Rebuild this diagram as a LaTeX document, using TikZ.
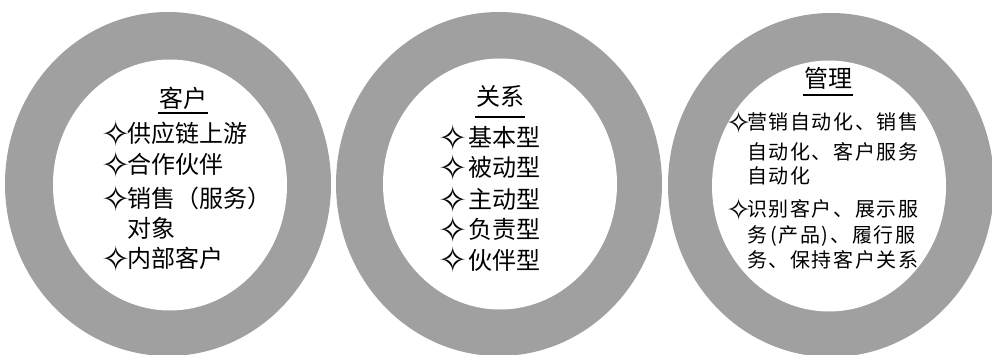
\documentclass[tikz,border=0pt]{standalone}
\usepackage{fontspec}
\newfontfamily\cjk{Noto Sans CJK SC}
\newfontfamily\symf{DejaVu Sans}
\usetikzlibrary{shapes.geometric}
\definecolor{ringgray}{RGB}{160,160,160}
\newcommand{\dia}[1]{\makebox[#1][l]{\smash{\raisebox{-4pt}{\symf\fontsize{35}{35}\selectfont ✧}}}}
\newcommand{\diasm}[1]{\makebox[#1][l]{\smash{\raisebox{-3.7pt}{\symf\fontsize{30}{30}\selectfont ✧}}}}
\tikzset{
  outerring/.style={ellipse, fill=ringgray, inner sep=0pt, minimum width=326pt, minimum height=344pt},
  innerdisc/.style={ellipse, fill=white, inner sep=0pt, minimum width=234pt, minimum height=251pt},
  titletxt/.style={font=\cjk\fontsize{24}{24}\selectfont, inner sep=1pt},
  itemtxt/.style={font=\cjk\fontsize{24}{24}\selectfont, anchor=base west, inner sep=0pt},
  itemsmall/.style={font=\cjk\fontsize{20}{20}\selectfont\addfontfeature{LetterSpace=8}, anchor=base west, inner sep=0pt},
  uline/.style={line width=1.4pt}
}
\begin{document}
\begin{tikzpicture}[x=1pt,y=-1pt]
\useasboundingbox (0,0) rectangle (992,355);
% rings
\node[outerring] (o1) at (168,184) {};
\node[innerdisc] (i1) at (170,185) {};
\node[outerring] (o2) at (499,184) {};
\node[innerdisc] (i2) at (500,184) {};
\node[outerring] (o3) at (831,185) {};
\node[innerdisc] (i3) at (829,186) {};
% circle 1
\node[titletxt] (t1) at (183,98) {客户};
\draw[uline] (158,113) coordinate (u1a) -- (208,113) coordinate (u1b);
\node[itemtxt] (a1) at (101,143) {\dia{26pt}供应链上游};
\node[itemtxt] (a2) at (101,174) {\dia{26pt}合作伙伴};
\node[itemtxt] (a3) at (101,208) {\dia{26pt}销售（服务）};
\node[itemtxt] (a4) at (127,237) {对象};
\node[itemtxt] (a5) at (101,267) {\dia{26pt}内部客户};
% circle 2
\node[titletxt] (t2) at (500,96) {关系};
\draw[uline] (475,117) coordinate (u2a) -- (525,117) coordinate (u2b);
\node[itemtxt] (b1) at (438,147) {\dia{30pt}基本型};
\node[itemtxt] (b2) at (438,177) {\dia{30pt}被动型};
\node[itemtxt] (b3) at (438,209) {\dia{30pt}主动型};
\node[itemtxt] (b4) at (438,239) {\dia{30pt}负责型};
\node[itemtxt] (b5) at (438,269) {\dia{30pt}伙伴型};
% circle 3
\node[titletxt] (t3) at (828,78) {管理};
\draw[uline] (803,95) coordinate (u3a) -- (853,95) coordinate (u3b);
\node[itemsmall] (c1) at (726,130) {\diasm{21pt}营销自动化、销售};
\node[itemsmall] (c2) at (747,160) {自动化、客户服务};
\node[itemsmall] (c3) at (747,184) {自动化};
\node[itemsmall] (c4) at (726,217) {\diasm{21pt}识别客户、展示服};
\node[itemsmall] (c5) at (747,242) {务\hspace{3pt}(产品)\hspace{2pt}、履行服};
\node[itemsmall] (c6) at (747,267) {务、保持客户关系};
\end{tikzpicture}
\end{document}
